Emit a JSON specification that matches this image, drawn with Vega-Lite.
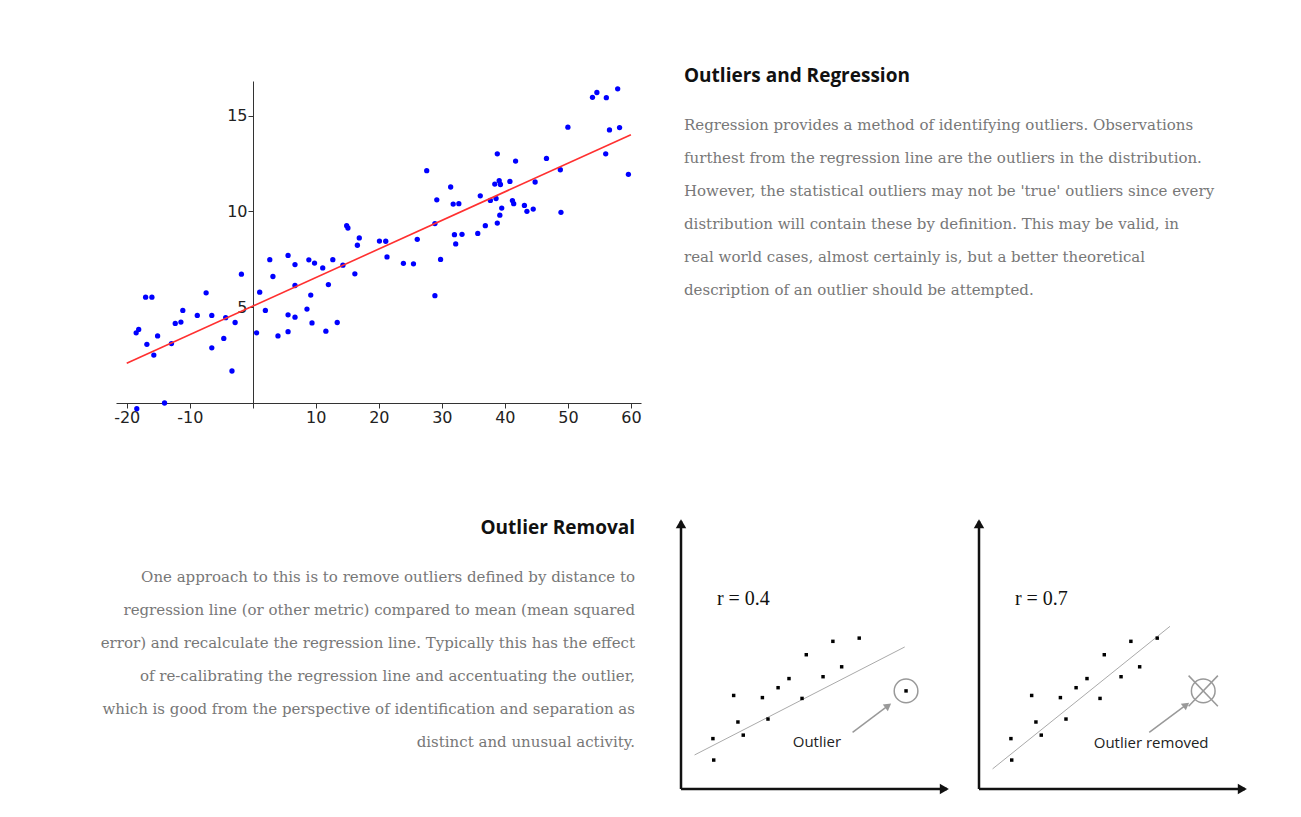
{
  "$schema": "https://vega.github.io/schema/vega-lite/v6.json",
  "background": "white",
  "padding": {"left": 100, "top": 66, "right": 0, "bottom": 0},
  "config": {"view": {"stroke": null}},
  "spacing": 94,
  "datasets": {
    "scatter": [
      {"x": -18.5, "y": 3.66}, {"x": -18.1, "y": 3.84}, {"x": -17.0, "y": 5.52}, {"x": -16.0, "y": 5.52},
      {"x": -16.8, "y": 3.06}, {"x": -15.7, "y": 2.5}, {"x": -15.1, "y": 3.5}, {"x": -18.4, "y": -0.3},
      {"x": -14.0, "y": 0.0}, {"x": -12.9, "y": 3.1}, {"x": -12.3, "y": 4.15}, {"x": -11.4, "y": 4.22},
      {"x": -11.1, "y": 4.83}, {"x": -8.8, "y": 4.57}, {"x": -7.4, "y": 5.75}, {"x": -6.5, "y": 4.57},
      {"x": -6.5, "y": 2.88}, {"x": -4.6, "y": 3.37}, {"x": -4.3, "y": 4.45}, {"x": -3.3, "y": 1.67},
      {"x": -2.8, "y": 4.2}, {"x": -1.8, "y": 6.72}, {"x": 0.6, "y": 3.66}, {"x": 1.1, "y": 5.78},
      {"x": 2.0, "y": 4.83}, {"x": 2.7, "y": 7.48}, {"x": 3.2, "y": 6.6}, {"x": 4.0, "y": 3.5},
      {"x": 5.6, "y": 7.7}, {"x": 5.6, "y": 4.6}, {"x": 5.6, "y": 3.72}, {"x": 6.7, "y": 7.22},
      {"x": 6.7, "y": 6.13}, {"x": 6.7, "y": 4.48}, {"x": 8.6, "y": 4.9}, {"x": 8.9, "y": 7.47},
      {"x": 9.2, "y": 5.63}, {"x": 9.4, "y": 4.18}, {"x": 9.8, "y": 7.3}, {"x": 11.1, "y": 7.05},
      {"x": 11.6, "y": 3.75}, {"x": 12.0, "y": 6.18}, {"x": 12.7, "y": 7.48}, {"x": 13.4, "y": 4.2},
      {"x": 14.3, "y": 7.19}, {"x": 14.9, "y": 9.25}, {"x": 15.1, "y": 9.13}, {"x": 16.2, "y": 6.74},
      {"x": 16.6, "y": 8.23}, {"x": 16.9, "y": 8.61}, {"x": 20.1, "y": 8.45}, {"x": 21.1, "y": 8.44},
      {"x": 21.3, "y": 7.62}, {"x": 23.9, "y": 7.29}, {"x": 25.5, "y": 7.26}, {"x": 26.1, "y": 8.54},
      {"x": 27.6, "y": 12.12}, {"x": 28.9, "y": 9.36}, {"x": 28.9, "y": 5.6}, {"x": 29.2, "y": 10.6},
      {"x": 29.8, "y": 7.49}, {"x": 31.4, "y": 11.27}, {"x": 31.8, "y": 10.38}, {"x": 32.0, "y": 8.78},
      {"x": 32.2, "y": 8.3}, {"x": 32.7, "y": 10.4}, {"x": 33.2, "y": 8.8}, {"x": 35.7, "y": 8.85},
      {"x": 36.1, "y": 10.81}, {"x": 36.9, "y": 9.25}, {"x": 37.7, "y": 10.57}, {"x": 38.4, "y": 11.42},
      {"x": 38.6, "y": 10.67}, {"x": 38.8, "y": 13.0}, {"x": 38.8, "y": 9.39}, {"x": 39.1, "y": 11.6},
      {"x": 39.2, "y": 9.8}, {"x": 39.3, "y": 11.4}, {"x": 39.5, "y": 10.17}, {"x": 40.8, "y": 11.56},
      {"x": 41.2, "y": 10.56}, {"x": 41.4, "y": 10.4}, {"x": 41.7, "y": 12.62}, {"x": 43.1, "y": 10.31},
      {"x": 43.5, "y": 10.0}, {"x": 44.5, "y": 10.12}, {"x": 44.8, "y": 11.53}, {"x": 46.6, "y": 12.76},
      {"x": 48.8, "y": 12.17}, {"x": 48.9, "y": 9.95}, {"x": 50.0, "y": 14.39}, {"x": 53.9, "y": 15.95},
      {"x": 54.6, "y": 16.2}, {"x": 56.1, "y": 15.93}, {"x": 56.0, "y": 13.0}, {"x": 56.6, "y": 14.25},
      {"x": 57.9, "y": 16.39}, {"x": 58.2, "y": 14.37}, {"x": 59.6, "y": 11.93}
    ],
    "fit": [{"x": -20, "y": 2.07}, {"x": 60, "y": 14.0}],
    "pts": [
      {"x": 12.3, "y": 10.8}, {"x": 12.0, "y": 18.8}, {"x": 21.4, "y": 25.0}, {"x": 23.4, "y": 20.1},
      {"x": 19.8, "y": 34.9}, {"x": 30.6, "y": 34.1}, {"x": 32.7, "y": 26.1}, {"x": 36.5, "y": 37.8},
      {"x": 40.6, "y": 41.2}, {"x": 45.5, "y": 33.8}, {"x": 47.1, "y": 50.1}, {"x": 53.4, "y": 41.9},
      {"x": 57.1, "y": 55.1}, {"x": 60.4, "y": 45.6}, {"x": 67.0, "y": 56.3}
    ],
    "axes": [{"x": 0, "y": 0, "x2": 100, "y2": 0}, {"x": 0, "y": 0, "x2": 0, "y2": 100}],
    "text1": [
      {"line": 1, "text": "Regression provides a method of identifying outliers. Observations"},
      {"line": 2, "text": "furthest from the regression line are the outliers in the distribution."},
      {"line": 3, "text": "However, the statistical outliers may not be 'true' outliers since every"},
      {"line": 4, "text": "distribution will contain these by definition. This may be valid, in"},
      {"line": 5, "text": "real world cases, almost certainly is, but a better theoretical"},
      {"line": 6, "text": "description of an outlier should be attempted."}
    ],
    "text2": [
      {"line": 1, "text": "One approach to this is to remove outliers defined by distance to"},
      {"line": 2, "text": "regression line (or other metric) compared to mean (mean squared"},
      {"line": 3, "text": "error) and recalculate the regression line. Typically this has the effect"},
      {"line": 4, "text": "of re-calibrating the regression line and accentuating the outlier,"},
      {"line": 5, "text": "which is good from the perspective of identification and separation as"},
      {"line": 6, "text": "distinct and unusual activity."}
    ]
  },
  "vconcat": [
    {
      "hconcat": [
        {
          "width": 525,
          "height": 322,
          "layer": [
            {
              "data": {"name": "scatter"},
              "mark": {"type": "point", "filled": true, "size": 28, "color": "#0000ff", "opacity": 1, "clip": false},
              "encoding": {
                "x": {"field": "x", "type": "quantitative", "scale": {"domain": [-21.7, 61.6], "nice": false, "zero": false},
                  "axis": {"values": [-20, -17.5, -15, -12.5, -10, -7.5, -5, -2.5, 0, 2.5, 5, 7.5, 10, 12.5, 15, 17.5, 20, 22.5, 25, 27.5, 30, 32.5, 35, 37.5, 40, 42.5, 45, 47.5, 50, 52.5, 55, 57.5, 60],
                    "labelExpr": "datum.value % 10 == 0 && datum.value != 0 ? '' + datum.value : ''",
                    "title": null, "grid": false, "tickSize": 5, "domainColor": "#333", "tickColor": "#333",
                    "labelColor": "#222", "labelFont": "DejaVu Sans", "labelFontSize": 16, "labelPadding": 1,
                    "labelOverlap": false, "labelFlush": false}},
                "y": {"field": "y", "type": "quantitative", "scale": {"domain": [0, 16.8], "nice": false, "zero": false},
                  "axis": {"values": [5, 10, 15],
                    "offset": -137, "title": null, "grid": false, "tickSize": 5, "domainColor": "#333", "tickColor": "#333",
                    "labelColor": "#222", "labelFont": "DejaVu Sans", "labelFontSize": 16, "labelPadding": 1,
                    "labelOverlap": false, "labelFlush": false, "labelSeparation": 0}}
              }
            },
            {
              "data": {"name": "fit"},
              "mark": {"type": "line", "color": "#ff3030", "strokeWidth": 1.6},
              "encoding": {
                "x": {"field": "x", "type": "quantitative"},
                "y": {"field": "y", "type": "quantitative"}
              }
            }
          ]
        },
        {
          "width": 540,
          "height": 322,
          "encoding": {
            "x": {"datum": 0, "type": "quantitative", "scale": {"domain": [0, 1]}, "axis": null},
            "y": {"field": "line", "type": "quantitative", "scale": {"domain": [-0.333, 9.424], "reverse": true, "nice": false, "zero": false}, "axis": null},
            "text": {"field": "text"}
          },
          "layer": [
            {
              "data": {"values": [{"line": 0, "text": "Outliers and Regression"}]},
              "mark": {"type": "text", "align": "left", "baseline": "middle", "dy": -16, "font": "Open Sans", "fontWeight": "bold", "fontSize": 19, "color": "#111"}
            },
            {
              "data": {"name": "text1"},
              "mark": {"type": "text", "align": "left", "baseline": "middle", "font": "DejaVu Serif", "fontSize": 15, "color": "#777"}
            }
          ]
        }
      ],
      "spacing": 42
    },
    {
      "hconcat": [
        {
          "width": 519,
          "height": 268,
          "encoding": {
            "x": {"datum": 1, "type": "quantitative", "scale": {"domain": [0, 1]}, "axis": null},
            "y": {"field": "line", "type": "quantitative", "scale": {"domain": [-0.697, 7.424], "reverse": true, "nice": false, "zero": false}, "axis": null},
            "text": {"field": "text"}
          },
          "layer": [
            {
              "data": {"values": [{"line": 0, "text": "Outlier Removal"}]},
              "mark": {"type": "text", "align": "right", "baseline": "middle", "dy": -16, "font": "Open Sans", "fontWeight": "bold", "fontSize": 19, "color": "#111"}
            },
            {
              "data": {"name": "text2"},
              "mark": {"type": "text", "align": "right", "baseline": "middle", "font": "DejaVu Serif", "fontSize": 15, "color": "#777"}
            }
          ]
        },
        {
          "hconcat": [
            {
              "width": 266,
              "height": 268,
              "layer": [
                {"data": {"name": "axes"}, "mark": {"type": "rule", "color": "#111", "strokeWidth": 2.5},
                  "encoding": {"x": {"field": "x", "type": "quantitative", "scale": {"domain": [0, 100], "nice": false}, "axis": null},
                    "y": {"field": "y", "type": "quantitative", "scale": {"domain": [0, 100], "nice": false}, "axis": null},
                    "x2": {"field": "x2"}, "y2": {"field": "y2"}}},
                {"data": {"values": [{"x": 99, "y": 0}]}, "mark": {"type": "point", "shape": "triangle-right", "filled": true, "size": 110, "color": "#111", "opacity": 1},
                  "encoding": {"x": {"field": "x", "type": "quantitative"}, "y": {"field": "y", "type": "quantitative"}}},
                {"data": {"values": [{"x": 0, "y": 99}]}, "mark": {"type": "point", "shape": "triangle-up", "filled": true, "size": 110, "color": "#111", "opacity": 1},
                  "encoding": {"x": {"field": "x", "type": "quantitative"}, "y": {"field": "y", "type": "quantitative"}}},
                {"data": {"values": [{"x": 5.1, "y": 12.7, "x2": 84.1, "y2": 53.0}]}, "mark": {"type": "rule", "color": "#aaa", "strokeWidth": 1},
                  "encoding": {"x": {"field": "x", "type": "quantitative"}, "y": {"field": "y", "type": "quantitative"}, "x2": {"field": "x2"}, "y2": {"field": "y2"}}},
                {"data": {"name": "pts"}, "mark": {"type": "square", "size": 12, "color": "#000", "opacity": 1},
                  "encoding": {"x": {"field": "x", "type": "quantitative"}, "y": {"field": "y", "type": "quantitative"}}},
                {"data": {"values": [{"x": 84.6, "y": 36.6}]}, "mark": {"type": "square", "size": 12, "color": "#000", "opacity": 1},
                  "encoding": {"x": {"field": "x", "type": "quantitative"}, "y": {"field": "y", "type": "quantitative"}}},
                {"data": {"values": [{"x": 84.6, "y": 36.6}]}, "mark": {"type": "point", "shape": "circle", "size": 560, "filled": false, "stroke": "#999", "strokeWidth": 1.5, "opacity": 1},
                  "encoding": {"x": {"field": "x", "type": "quantitative"}, "y": {"field": "y", "type": "quantitative"}}},
                {"data": {"values": [{"x": 64.5, "y": 21.1, "x2": 77.5, "y2": 30.8}]}, "mark": {"type": "rule", "color": "#999", "strokeWidth": 1.5},
                  "encoding": {"x": {"field": "x", "type": "quantitative"}, "y": {"field": "y", "type": "quantitative"}, "x2": {"field": "x2"}, "y2": {"field": "y2"}}},
                {"data": {"values": [{"x": 77.9, "y": 31.1}]}, "mark": {"type": "point", "shape": "triangle-up", "angle": 53, "filled": true, "size": 70, "color": "#999", "opacity": 1},
                  "encoding": {"x": {"field": "x", "type": "quantitative"}, "y": {"field": "y", "type": "quantitative"}}},
                {"data": {"values": [{"x": 51.1, "y": 17.4, "label": "Outlier"}]}, "mark": {"type": "text", "align": "center", "baseline": "middle", "font": "Open Sans", "fontSize": 15, "color": "#222"},
                  "encoding": {"x": {"field": "x", "type": "quantitative"}, "y": {"field": "y", "type": "quantitative"}, "text": {"field": "label"}}},
                {"data": {"values": [{"x": 13.5, "y": 70.9, "label": "r = 0.4"}]}, "mark": {"type": "text", "align": "left", "baseline": "middle", "font": "Liberation Serif", "fontSize": 20, "color": "#111"},
                  "encoding": {"x": {"field": "x", "type": "quantitative"}, "y": {"field": "y", "type": "quantitative"}, "text": {"field": "label"}}}
              ]
            },
            {
              "width": 266,
              "height": 268,
              "layer": [
                {"data": {"name": "axes"}, "mark": {"type": "rule", "color": "#111", "strokeWidth": 2.5},
                  "encoding": {"x": {"field": "x", "type": "quantitative", "scale": {"domain": [0, 100], "nice": false}, "axis": null},
                    "y": {"field": "y", "type": "quantitative", "scale": {"domain": [0, 100], "nice": false}, "axis": null},
                    "x2": {"field": "x2"}, "y2": {"field": "y2"}}},
                {"data": {"values": [{"x": 99, "y": 0}]}, "mark": {"type": "point", "shape": "triangle-right", "filled": true, "size": 110, "color": "#111", "opacity": 1},
                  "encoding": {"x": {"field": "x", "type": "quantitative"}, "y": {"field": "y", "type": "quantitative"}}},
                {"data": {"values": [{"x": 0, "y": 99}]}, "mark": {"type": "point", "shape": "triangle-up", "filled": true, "size": 110, "color": "#111", "opacity": 1},
                  "encoding": {"x": {"field": "x", "type": "quantitative"}, "y": {"field": "y", "type": "quantitative"}}},
                {"data": {"values": [{"x": 5.1, "y": 7.5, "x2": 71.8, "y2": 60.7}]}, "mark": {"type": "rule", "color": "#aaa", "strokeWidth": 1},
                  "encoding": {"x": {"field": "x", "type": "quantitative"}, "y": {"field": "y", "type": "quantitative"}, "x2": {"field": "x2"}, "y2": {"field": "y2"}}},
                {"data": {"name": "pts"}, "mark": {"type": "square", "size": 12, "color": "#000", "opacity": 1},
                  "encoding": {"x": {"field": "x", "type": "quantitative"}, "y": {"field": "y", "type": "quantitative"}}},
                {"data": {"values": [{"x": 84.3, "y": 36.6}]}, "mark": {"type": "point", "shape": "circle", "size": 560, "filled": false, "stroke": "#999", "strokeWidth": 1.5, "opacity": 1},
                  "encoding": {"x": {"field": "x", "type": "quantitative"}, "y": {"field": "y", "type": "quantitative"}}},
                {"data": {"values": [{"x": 78.8, "y": 30.9, "x2": 89.8, "y2": 42.3}, {"x": 78.8, "y": 42.3, "x2": 89.8, "y2": 30.9}]}, "mark": {"type": "rule", "color": "#999", "strokeWidth": 1.5},
                  "encoding": {"x": {"field": "x", "type": "quantitative"}, "y": {"field": "y", "type": "quantitative"}, "x2": {"field": "x2"}, "y2": {"field": "y2"}}},
                {"data": {"values": [{"x": 64.0, "y": 21.1, "x2": 77.5, "y2": 31.1}]}, "mark": {"type": "rule", "color": "#999", "strokeWidth": 1.5},
                  "encoding": {"x": {"field": "x", "type": "quantitative"}, "y": {"field": "y", "type": "quantitative"}, "x2": {"field": "x2"}, "y2": {"field": "y2"}}},
                {"data": {"values": [{"x": 77.9, "y": 31.4}]}, "mark": {"type": "point", "shape": "triangle-up", "angle": 53, "filled": true, "size": 70, "color": "#999", "opacity": 1},
                  "encoding": {"x": {"field": "x", "type": "quantitative"}, "y": {"field": "y", "type": "quantitative"}}},
                {"data": {"values": [{"x": 64.7, "y": 17.2, "label": "Outlier removed"}]}, "mark": {"type": "text", "align": "center", "baseline": "middle", "font": "Open Sans", "fontSize": 15, "color": "#222"},
                  "encoding": {"x": {"field": "x", "type": "quantitative"}, "y": {"field": "y", "type": "quantitative"}, "text": {"field": "label"}}},
                {"data": {"values": [{"x": 13.5, "y": 70.9, "label": "r = 0.7"}]}, "mark": {"type": "text", "align": "left", "baseline": "middle", "font": "Liberation Serif", "fontSize": 20, "color": "#111"},
                  "encoding": {"x": {"field": "x", "type": "quantitative"}, "y": {"field": "y", "type": "quantitative"}, "text": {"field": "label"}}}
              ]
            }
          ],
          "spacing": 24
        }
      ],
      "spacing": 40
    }
  ]
}
